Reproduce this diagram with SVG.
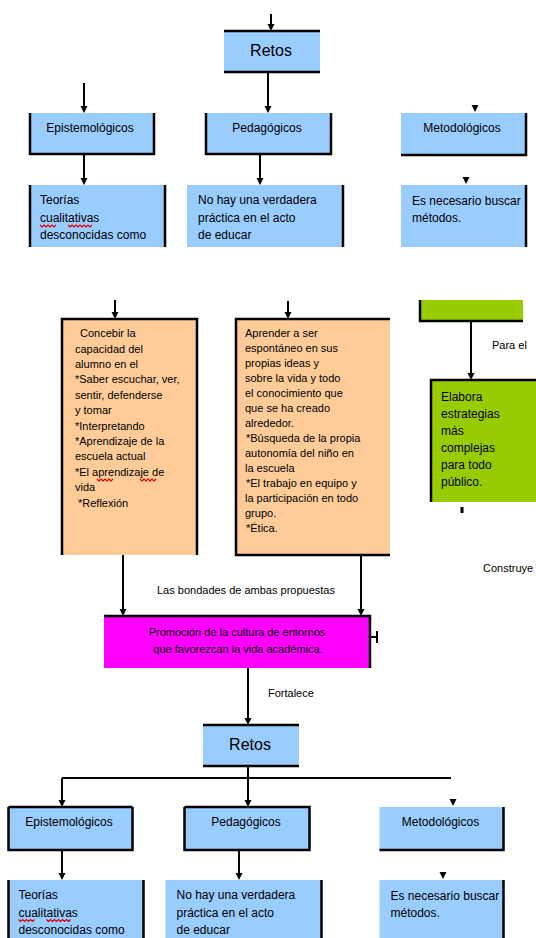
<svg xmlns="http://www.w3.org/2000/svg" xmlns:xlink="http://www.w3.org/1999/xlink" width="536" height="938" viewBox="0 0 536 938">
  <style>
    .blue { fill: #99ccff; }
    .salmon { fill: #ffcc99; }
    .green { fill: #99cc00; }
    .magenta { fill: #ff00ff; }
    .edge { fill: none; stroke: #000; stroke-width: 2.5; }
    .wire { fill: none; stroke: #000; stroke-width: 2; }
    text { font-family: "Liberation Sans", Arial, sans-serif; fill: #000; }
    .title { font-size: 16px; text-anchor: middle; }
    .head { font-size: 12px; text-anchor: middle; }
    .body { font-size: 12px; }
    .note { font-size: 11px; }
    .mid { text-anchor: middle; }
    .squiggle { fill: none; stroke: #e00000; stroke-width: 1.2; }
  </style>
  <defs>
    <path id="tip" d="M-3.5,-7 L3.5,-7 L0,0 Z" fill="#000"/>
  </defs>

  <rect width="536" height="938" fill="#ffffff"/>

  <!-- connectors -->
  <g id="connectors">
    <!-- upper tree -->
    <path class="wire" d="M271,14 V26"/><use xlink:href="#tip" x="271" y="31"/>
    <path class="wire" d="M84,83 V108"/><use xlink:href="#tip" x="84" y="113"/>
    <path class="wire" d="M268,72 V108"/><use xlink:href="#tip" x="268" y="113"/>
    <use xlink:href="#tip" x="475" y="112"/>
    <path class="wire" d="M84,154 V180"/><use xlink:href="#tip" x="84" y="185"/>
    <path class="wire" d="M260,154 V180"/><use xlink:href="#tip" x="260" y="185"/>
    <use xlink:href="#tip" x="466" y="184"/>

    <!-- middle band -->
    <path class="wire" d="M115,300 V314"/><use xlink:href="#tip" x="115" y="319"/>
    <path class="wire" d="M288,301 V314"/><use xlink:href="#tip" x="288" y="319"/>
    <path class="wire" d="M471,321 V375"/><use xlink:href="#tip" x="471" y="380"/>
    <rect x="460.5" y="507" width="3" height="6" fill="#000"/>
    <path class="wire" d="M123,555 V611"/><use xlink:href="#tip" x="123" y="616"/>
    <path class="wire" d="M361,555 V611"/><use xlink:href="#tip" x="361" y="616"/>
    <path class="wire" d="M370,637 H377 M377,631 V643"/>
    <path class="wire" d="M248,668 V720"/><use xlink:href="#tip" x="248" y="725"/>

    <!-- lower tree -->
    <path class="wire" d="M248,766 V778 M62,778 H451 M62,778 V802 M248,778 V802"/>
    <use xlink:href="#tip" x="62" y="807"/>
    <use xlink:href="#tip" x="248" y="807"/>
    <use xlink:href="#tip" x="453" y="806"/>
    <path class="wire" d="M62,850 V875"/><use xlink:href="#tip" x="62" y="880"/>
    <path class="wire" d="M239,850 V875"/><use xlink:href="#tip" x="239" y="880"/>
    <use xlink:href="#tip" x="443" y="879"/>

    <!-- connector labels -->
    <text class="note" x="157" y="594">Las bondades de ambas propuestas</text>
    <text class="note" x="268" y="697">Fortalece</text>
    <text class="note" x="492" y="349">Para el</text>
    <text class="note" x="483" y="572">Construye</text>
  </g>

  <!-- upper tree -->
  <g id="retos-1">
    <rect class="blue" x="224" y="31" width="96" height="41"/>
    <path class="edge" d="M224,31 H320 M224,72 H320"/>
    <text class="title" x="271" y="56">Retos</text>
  </g>
  <g id="epistemologicos-1">
    <rect class="blue" x="30" y="113" width="124" height="41"/>
    <path class="edge" d="M30,113 V154 H154 V113"/>
    <text class="head" x="90" y="132">Epistemológicos</text>
  </g>
  <g id="pedagogicos-1">
    <rect class="blue" x="206" y="113" width="125" height="41"/>
    <path class="edge" d="M206,113 V154 H331 V113"/>
    <text class="head" x="267" y="132">Pedagógicos</text>
  </g>
  <g id="metodologicos-1">
    <rect class="blue" x="401" y="113" width="125" height="42"/>
    <path class="edge" d="M401,155 H526 V113"/>
    <text class="head" x="462" y="132">Metodológicos</text>
  </g>
  <g id="teorias-1">
    <rect class="blue" x="30" y="185" width="135" height="62"/>
    <path class="edge" d="M30,185 V247 M165,185 V247"/>
    <text class="body" x="40" y="204">Teorías</text>
    <text class="body" x="40" y="222">cualitativas</text>
    <text class="body" x="40" y="239">desconocidas como</text>
    <path class="squiggle" d="M40,225 l2,2 l2,-2 l2,2 l2,-2 l2,2 l2,-2 l2,2 l2,-2 M68,225 l2,2 l2,-2 l2,2 l2,-2 l2,2 l2,-2 l2,2 l2,-2 l2,2 l2,-2 l2,2 l2,-2"/>
  </g>
  <g id="practica-1">
    <rect class="blue" x="187" y="185" width="156" height="62"/>
    <path class="edge" d="M343,185 V247"/>
    <text class="body" x="198" y="204">No hay una verdadera</text>
    <text class="body" x="198" y="222">práctica en el acto</text>
    <text class="body" x="198" y="239">de educar</text>
  </g>
  <g id="metodos-1">
    <rect class="blue" x="401" y="185" width="125" height="62"/>
    <path class="edge" d="M526,185 V247"/>
    <text class="body" x="412" y="205">Es necesario buscar</text>
    <text class="body" x="412" y="222">métodos.</text>
  </g>

  <!-- middle band -->
  <g id="concebir">
    <rect class="salmon" x="62" y="319" width="135" height="236"/>
    <path class="edge" d="M62,555 V319 H197 V555"/>
    <text class="note" x="80" y="337">Concebir la</text>
    <text class="note" x="75" y="352.5">capacidad del</text>
    <text class="note" x="75" y="368">alumno en el</text>
    <text class="note" x="75" y="383">*Saber escuchar, ver,</text>
    <text class="note" x="75" y="399">sentir, defenderse</text>
    <text class="note" x="75" y="414">y tomar</text>
    <text class="note" x="75" y="430">*Interpretando</text>
    <text class="note" x="75" y="445">*Aprendizaje de la</text>
    <text class="note" x="75" y="460">escuela actual</text>
    <text class="note" x="75" y="476">*El aprendizaje de</text>
    <text class="note" x="75" y="491">vida</text>
    <text class="note" x="78" y="507">*Reflexión</text>
    <path class="squiggle" d="M97,479 l2,2 l2,-2 l2,2 l2,-2 l2,2 l2,-2 l2,2 l2,-2 M140,479 l2,2 l2,-2 l2,2 l2,-2 l2,2 l2,-2 l2,2 l2,-2"/>
  </g>
  <g id="aprender">
    <rect class="salmon" x="236" y="319" width="154" height="236"/>
    <path class="edge" d="M390,319 H236 V555 H390"/>
    <text class="note" x="245" y="337">Aprender a ser</text>
    <text class="note" x="245" y="352">espontáneo en sus</text>
    <text class="note" x="245" y="367">propias ideas y</text>
    <text class="note" x="245" y="382">sobre la vida y todo</text>
    <text class="note" x="245" y="397">el conocimiento que</text>
    <text class="note" x="245" y="412">que se ha creado</text>
    <text class="note" x="245" y="427">alrededor.</text>
    <text class="note" x="246" y="442">*Búsqueda de la propia</text>
    <text class="note" x="245" y="457">autonomía del niño en</text>
    <text class="note" x="245" y="472">la escuela</text>
    <text class="note" x="246" y="487">*El trabajo en equipo y</text>
    <text class="note" x="245" y="502">la participación en todo</text>
    <text class="note" x="245" y="517">grupo.</text>
    <text class="note" x="246" y="532">*Ética.</text>
  </g>
  <g id="objetivo">
    <rect class="green" x="420" y="300" width="103" height="21"/>
    <path class="edge" d="M420,300 V321 H523"/>
  </g>
  <g id="elabora">
    <rect class="green" x="431" y="380" width="105" height="122"/>
    <path class="edge" d="M431,502 V380 H536"/>
    <text class="body" x="441" y="401">Elabora</text>
    <text class="body" x="441" y="418">estrategias</text>
    <text class="body" x="441" y="435">más</text>
    <text class="body" x="441" y="452">complejas</text>
    <text class="body" x="441" y="469">para todo</text>
    <text class="body" x="441" y="486">público.</text>
  </g>
  <g id="promocion">
    <rect class="magenta" x="104" y="616" width="266" height="52"/>
    <path class="edge" d="M104,616 H370 V668"/>
    <text class="note mid" x="237" y="636">Promoción de la cultura de entornos</text>
    <text class="note mid" x="238" y="653">que favorezcan la vida académica.</text>
  </g>

  <!-- lower tree -->
  <g id="retos-2">
    <rect class="blue" x="203" y="725" width="96" height="41"/>
    <path class="edge" d="M203,725 H299 M203,766 H299"/>
    <text class="title" x="250" y="750">Retos</text>
  </g>
  <g id="epistemologicos-2">
    <rect class="blue" x="8.5" y="807" width="124" height="43"/>
    <path class="edge" d="M8.5,807 V850 H132.5 V807 M8.5,807 H132.5"/>
    <text class="head" x="69" y="826">Epistemológicos</text>
  </g>
  <g id="pedagogicos-2">
    <rect class="blue" x="184.5" y="807" width="125" height="43"/>
    <path class="edge" d="M184.5,807 V850 H309.5 V807 H184.5"/>
    <text class="head" x="246" y="826">Pedagógicos</text>
  </g>
  <g id="metodologicos-2">
    <rect class="blue" x="379.5" y="807" width="124" height="43"/>
    <path class="edge" d="M379.5,850 H503.5 V807"/>
    <text class="head" x="440.5" y="826">Metodológicos</text>
  </g>
  <g id="teorias-2">
    <rect class="blue" x="8.5" y="880" width="135" height="62"/>
    <path class="edge" d="M8.5,942 V880 M143.5,880 V942"/>
    <text class="body" x="18.5" y="898.5">Teorías</text>
    <text class="body" x="18.5" y="916.5">cualitativas</text>
    <text class="body" x="18.5" y="933.5">desconocidas como</text>
    <path class="squiggle" d="M18.5,919.5 l2,2 l2,-2 l2,2 l2,-2 l2,2 l2,-2 l2,2 l2,-2 M46.5,919.5 l2,2 l2,-2 l2,2 l2,-2 l2,2 l2,-2 l2,2 l2,-2 l2,2 l2,-2 l2,2 l2,-2"/>
  </g>
  <g id="practica-2">
    <rect class="blue" x="165.5" y="880" width="156" height="62"/>
    <path class="edge" d="M321.5,880 V942"/>
    <text class="body" x="176.5" y="898.5">No hay una verdadera</text>
    <text class="body" x="176.5" y="916.5">práctica en el acto</text>
    <text class="body" x="176.5" y="933.5">de educar</text>
  </g>
  <g id="metodos-2">
    <rect class="blue" x="379.5" y="880" width="124" height="62"/>
    <path class="edge" d="M503.5,880 V942"/>
    <text class="body" x="390.5" y="899.5">Es necesario buscar</text>
    <text class="body" x="390.5" y="916.5">métodos.</text>
  </g>
</svg>
